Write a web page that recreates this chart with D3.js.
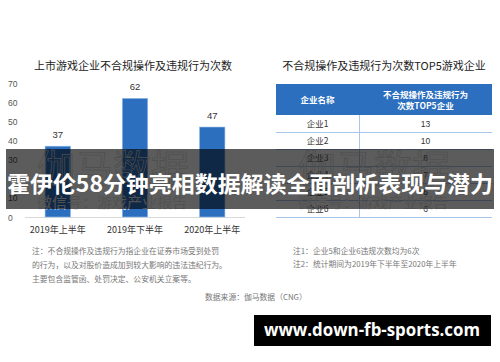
<!DOCTYPE html>
<html>
<head>
<meta charset="utf-8">
<script src="https://cdn.jsdelivr.net/npm/d3@7"></script>
<style>
  html, body { margin: 0; padding: 0; background: #fff; }
  svg { display: block; font-family: "Noto Sans CJK SC", "Noto Sans", sans-serif; }
</style>
</head>
<body>
<svg id="chart" width="500" height="362"></svg>
<script>
// bar chart data
const periods = ["2019年上半年", "2019年下半年", "2020年上半年"];
const violations = [37, 62, 47];
const yTicks = [0, 10, 20, 30, 40, 50, 60, 70];

// top5 table data
const companies = ["企业1", "企业2", "企业3", "企业4", "企业5", "企业6"];
const companyCounts = [13, 10, 8, 7, 6, 6];

const leftNotes = [
  "注：不合规操作及违规行为指企业在证券市场受到处罚",
  "的行为，以及对股价造成加到较大影响的违法违纪行为。",
  "主要包含监管函、处罚决定、公安机关立案等。"
];
const rightNotes = [
  "注1：企业5和企业6违规次数均为6次",
  "注2：统计期间为2019年下半年至2020年上半年"
];

const barColor = "#2b6fbe";
const svg = d3.select("#chart");

// ---- left: bar chart ----
const y = d3.scaleLinear().domain([0, 70]).range([217, 83]);
const x = d3.scaleBand().domain(periods).range([25, 245]).paddingInner(0.67).paddingOuter(0.26);

svg.append("text")
  .attr("x", 133).attr("y", 70)
  .attr("text-anchor", "middle")
  .attr("font-size", 11).attr("fill", "#222")
  .text("上市游戏企业不合规操作及违规行为次数");

svg.append("g").selectAll("text")
  .data(yTicks)
  .join("text")
    .attr("x", 8).attr("y", d => y(d) + 3.5)
    .attr("font-size", 8.5).attr("fill", "#555")
    .attr("font-family", "Liberation Sans, Arial, sans-serif")
    .text(d => d);

svg.append("line")
  .attr("x1", 25).attr("x2", 245)
  .attr("y1", y(0) + 0.5).attr("y2", y(0) + 0.5)
  .attr("stroke", "#d9d9d9");

svg.append("g").selectAll("rect")
  .data(violations)
  .join("rect")
    .attr("x", (d, i) => x(periods[i]))
    .attr("y", d => y(d))
    .attr("width", x.bandwidth())
    .attr("height", d => y(0) - y(d))
    .attr("fill", barColor)
    .attr("stroke", "#9cc0ea").attr("stroke-width", 0.6);

svg.append("g").selectAll("text")
  .data(violations)
  .join("text")
    .attr("x", (d, i) => x(periods[i]) + x.bandwidth() / 2)
    .attr("y", d => y(d) - 8)
    .attr("text-anchor", "middle")
    .attr("font-size", 9.5).attr("fill", "#333")
    .attr("font-family", "Liberation Sans, Arial, sans-serif")
    .text(d => d);

svg.append("g").selectAll("text")
  .data(periods)
  .join("text")
    .attr("x", d => x(d) + x.bandwidth() / 2)
    .attr("y", 233)
    .attr("text-anchor", "middle")
    .attr("font-size", 9).attr("fill", "#333")
    .text(d => d);

svg.append("g").selectAll("text")
  .data(leftNotes)
  .join("text")
    .attr("x", 32).attr("y", (d, i) => 254 + i * 14)
    .attr("font-size", 7.8).attr("fill", "#777")
    .text(d => d);

svg.append("text")
  .attr("x", 205).attr("y", 300)
  .attr("font-size", 7.8).attr("fill", "#777")
  .text("数据来源：伽马数据（CNG）");

// ---- right: table ----
const tx0 = 276, tx1 = 492, tmid = 359;
const rowY = d3.scaleBand().domain(companies).range([115, 217]);

svg.append("text")
  .attr("x", 384).attr("y", 70)
  .attr("text-anchor", "middle")
  .attr("font-size", 11).attr("fill", "#222")
  .text("不合规操作及违规行为次数TOP5游戏企业");

svg.append("rect")
  .attr("x", tx0).attr("y", 84)
  .attr("width", tx1 - tx0).attr("height", 31)
  .attr("fill", barColor);

svg.append("text")
  .attr("x", (tx0 + tmid) / 2).attr("y", 103)
  .attr("text-anchor", "middle")
  .attr("font-size", 8.5).attr("font-weight", "bold").attr("fill", "#fff")
  .text("企业名称");

svg.append("g").selectAll("text")
  .data(["不合规操作及违规行为", "次数TOP5企业"])
  .join("text")
    .attr("x", (tmid + tx1) / 2).attr("y", (d, i) => 98 + i * 11)
    .attr("text-anchor", "middle")
    .attr("font-size", 8.5).attr("font-weight", "bold").attr("fill", "#fff")
    .text(d => d);

svg.append("g").selectAll("line")
  .data(companies)
  .join("line")
    .attr("x1", tx0).attr("x2", tx1)
    .attr("y1", d => rowY(d) + rowY.bandwidth() + 0.5)
    .attr("y2", d => rowY(d) + rowY.bandwidth() + 0.5)
    .attr("stroke", "#a8c6ea");

svg.append("line")
  .attr("x1", tmid + 0.5).attr("x2", tmid + 0.5)
  .attr("y1", 115).attr("y2", 217)
  .attr("stroke", "#a8c6ea");

svg.append("g").selectAll("text")
  .data(companies)
  .join("text")
    .attr("x", (tx0 + tmid) / 2)
    .attr("y", d => rowY(d) + rowY.bandwidth() / 2 + 3)
    .attr("text-anchor", "middle")
    .attr("font-size", 8.5).attr("fill", "#333")
    .text(d => d);

svg.append("g").selectAll("text")
  .data(companyCounts)
  .join("text")
    .attr("x", (tmid + tx1) / 2)
    .attr("y", (d, i) => rowY(companies[i]) + rowY.bandwidth() / 2 + 3)
    .attr("text-anchor", "middle")
    .attr("font-size", 8.5).attr("fill", "#333")
    .attr("font-family", "Liberation Sans, Arial, sans-serif")
    .text(d => d);

svg.append("g").selectAll("text")
  .data(rightNotes)
  .join("text")
    .attr("x", 293).attr("y", (d, i) => 254 + i * 13)
    .attr("font-size", 7.8).attr("fill", "#777")
    .text(d => d);

// ---- faint watermark, then the banner overlay ----
[37, 298].forEach(mx => {
  svg.append("text")
    .attr("x", mx).attr("y", 182)
    .attr("font-size", 38).attr("fill", "none")
    .attr("stroke", "#d4d4d4").attr("stroke-width", 0.7)
    .text("伽马数据");
  svg.append("text")
    .attr("x", mx).attr("y", 208)
    .attr("font-size", 15).attr("fill", "#e4e4e4")
    .text("微信号：游戏产业报告");
});

svg.append("rect")
  .attr("x", 6).attr("y", 149)
  .attr("width", 488).attr("height", 60)
  .attr("fill", "rgba(0,0,0,0.64)");

svg.append("text")
  .attr("x", 250).attr("y", 192)
  .attr("text-anchor", "middle")
  .attr("font-size", 22).attr("font-weight", "bold").attr("fill", "#fff")
  .attr("textLength", 486).attr("lengthAdjust", "spacingAndGlyphs")
  .text("霍伊伦58分钟亮相数据解读全面剖析表现与潜力");

// ---- site badge ----
svg.append("rect")
  .attr("x", 254).attr("y", 315)
  .attr("width", 237).attr("height", 31)
  .attr("fill", "#000");

svg.append("text")
  .attr("x", 372).attr("y", 336)
  .attr("text-anchor", "middle")
  .attr("font-size", 17).attr("font-weight", "bold").attr("fill", "#fff")
  .attr("font-family", "Open Sans, DejaVu Sans, sans-serif")
  .attr("textLength", 216).attr("lengthAdjust", "spacingAndGlyphs")
  .text("www.down-fb-sports.com");
</script>
</body>
</html>
